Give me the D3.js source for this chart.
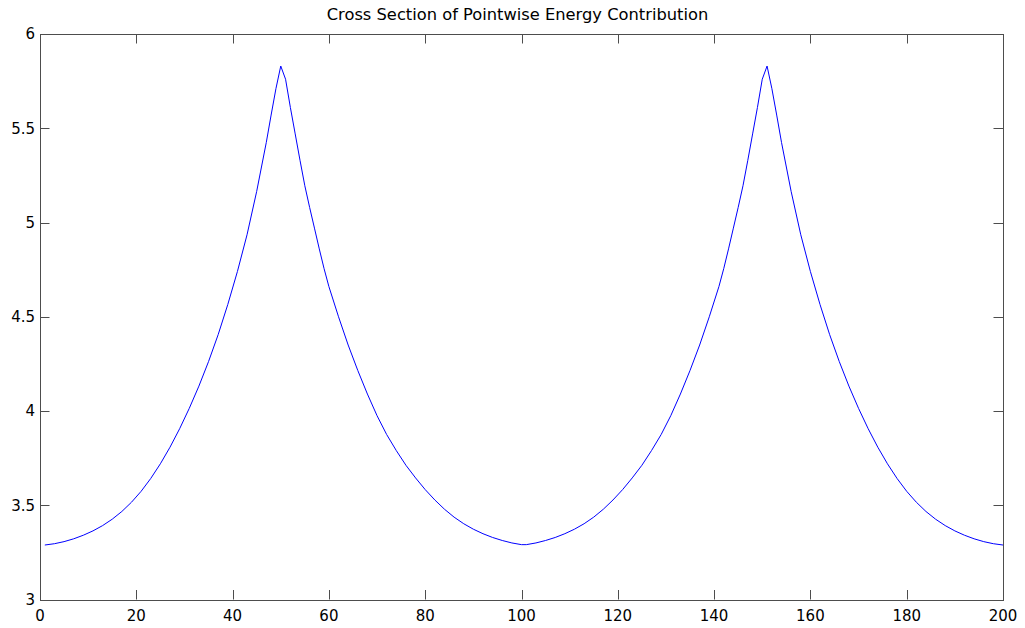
<!DOCTYPE html>
<html>
<head>
<meta charset="utf-8">
<script src="https://cdn.jsdelivr.net/npm/d3@7"></script>
<style>
  body { margin: 0; background: #fff; }
  svg text { font-family: "DejaVu Sans", sans-serif; fill: #000; }
</style>
</head>
<body>
<div id="chart"></div>
<script>
// Chart size
const width = 1025;
const height = 628;
const margin = { top: 34, right: 22, bottom: 28.5, left: 40 };

// Sample positions
const xs = [1, 3, 5, 7, 9, 11, 13, 15, 17, 19, 21, 23, 25, 27, 29, 31, 33, 35, 37, 39, 41, 43, 45, 47, 48, 49, 50,
            51, 52, 53, 54, 55, 56, 57, 58, 59, 60, 62, 64, 66, 68, 70, 72, 74, 76, 78, 80, 82, 84, 86, 88, 90, 92, 94, 96, 98, 100,
            101, 103, 105, 107, 109, 111, 113, 115, 117, 119, 121, 123, 125, 127, 129, 131, 133, 135, 137, 139, 141, 142, 143, 144, 145, 146, 147, 148, 149, 150,
            151, 152, 153, 154, 156, 158, 160, 162, 164, 166, 168, 170, 172, 174, 176, 178, 180, 182, 184, 186, 188, 190, 192, 194, 196, 198, 200];
// Energy values at those positions
const energy = [3.289, 3.296, 3.307, 3.322, 3.341, 3.364, 3.392, 3.426, 3.467, 3.516, 3.574, 3.642, 3.72, 3.808, 3.906, 4.014, 4.132, 4.262, 4.405, 4.565, 4.74, 4.935, 5.165, 5.425, 5.57, 5.71, 5.83,
                5.76, 5.61, 5.47, 5.33, 5.195, 5.08, 4.97, 4.86, 4.755, 4.66, 4.5, 4.35, 4.215, 4.09, 3.975, 3.875, 3.79, 3.712, 3.645, 3.583, 3.528, 3.479, 3.437, 3.402, 3.373, 3.349, 3.329, 3.313, 3.3, 3.291,
                3.291, 3.3, 3.313, 3.329, 3.349, 3.373, 3.402, 3.437, 3.479, 3.528, 3.583, 3.645, 3.712, 3.79, 3.875, 3.975, 4.09, 4.215, 4.35, 4.5, 4.66, 4.755, 4.86, 4.97, 5.08, 5.195, 5.33, 5.47, 5.61, 5.76,
                5.83, 5.71, 5.57, 5.425, 5.165, 4.935, 4.74, 4.565, 4.405, 4.262, 4.132, 4.014, 3.906, 3.808, 3.72, 3.642, 3.574, 3.516, 3.467, 3.426, 3.392, 3.364, 3.341, 3.322, 3.307, 3.296, 3.289];

// Axis ticks
const xTicks = [0, 20, 40, 60, 80, 100, 120, 140, 160, 180, 200];
const yTicks = [3, 3.5, 4, 4.5, 5, 5.5, 6];

const titleText = "Cross Section of Pointwise Energy Contribution";

const points = xs.map((x, i) => ({ x: x, y: energy[i] }));

const svg = d3.select("#chart")
  .append("svg")
  .attr("width", width)
  .attr("height", height);

const x = d3.scaleLinear().domain([0, 200]).range([margin.left, width - margin.right]);
const y = d3.scaleLinear().domain([3, 6]).range([height - margin.bottom, margin.top]);

const tickLen = 9.5;
const frameColor = "#4d4d4d";

// Ticks on all four sides, pointing inward
const axisG = svg.append("g").attr("stroke", frameColor).attr("stroke-width", 1);

xTicks.forEach(t => {
  const px = Math.round(x(t)) + 0.5;
  axisG.append("line").attr("x1", px).attr("x2", px)
    .attr("y1", y(3)).attr("y2", y(3) - tickLen);
  axisG.append("line").attr("x1", px).attr("x2", px)
    .attr("y1", y(6)).attr("y2", y(6) + tickLen);
});

yTicks.forEach(t => {
  const py = Math.round(y(t)) + 0.5;
  axisG.append("line").attr("x1", x(0)).attr("x2", x(0) + tickLen)
    .attr("y1", py).attr("y2", py);
  axisG.append("line").attr("x1", x(200)).attr("x2", x(200) - tickLen)
    .attr("y1", py).attr("y2", py);
});

// Box
svg.append("rect")
  .attr("x", Math.round(x(0)) + 0.5)
  .attr("y", Math.round(y(6)) + 0.5)
  .attr("width", Math.round(x(200)) - Math.round(x(0)))
  .attr("height", Math.round(y(3)) - Math.round(y(6)))
  .attr("fill", "none")
  .attr("stroke", frameColor)
  .attr("stroke-width", 1);

// Tick labels
svg.append("g").selectAll("text")
  .data(xTicks)
  .enter()
  .append("text")
  .attr("x", d => x(d))
  .attr("y", 621)
  .attr("text-anchor", "middle")
  .attr("font-size", 15)
  .text(d => d);

svg.append("g").selectAll("text")
  .data(yTicks)
  .enter()
  .append("text")
  .attr("x", 35)
  .attr("y", d => y(d))
  .attr("dy", "0.36em")
  .attr("text-anchor", "end")
  .attr("font-size", 15)
  .text(d => d);

// Title
svg.append("text")
  .attr("x", (x(0) + x(200)) / 2 - 4)
  .attr("y", 20)
  .attr("text-anchor", "middle")
  .attr("font-size", 16.3)
  .text(titleText);

// The curve
const line = d3.line()
  .x(d => x(d.x))
  .y(d => y(d.y));

svg.append("path")
  .datum(points)
  .attr("d", line)
  .attr("fill", "none")
  .attr("stroke", "#0000ff")
  .attr("stroke-width", 1);
</script>
</body>
</html>
